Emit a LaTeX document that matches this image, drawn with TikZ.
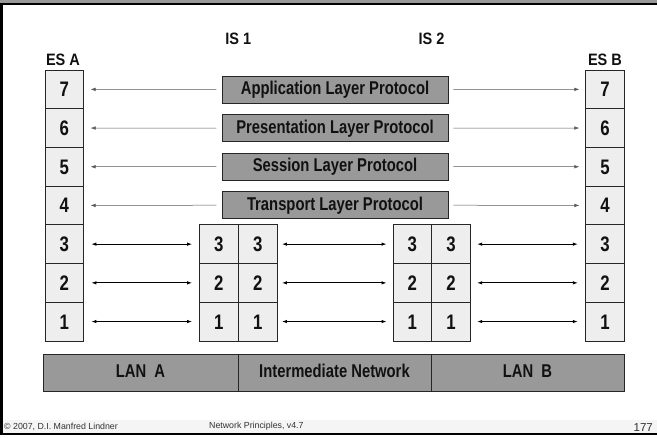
\documentclass[tikz,border=0pt]{standalone}
\usepackage{fontspec}
\setmainfont{Liberation Sans}
\newfontfamily\narrowfont[FakeStretch=0.80]{Liberation Sans}
\newfontfamily\headfont[FakeStretch=0.88]{Liberation Sans}
\usetikzlibrary{arrows.meta}
\definecolor{cellgray}{HTML}{EEEEEE}
\definecolor{boxgray}{HTML}{999999}
\definecolor{txtdark}{HTML}{111111}
\tikzset{
  cell/.style={draw=black!85, line width=0.7pt, fill=cellgray, minimum width=38.6pt, minimum height=38.7pt, inner sep=0pt, text height=15pt, text depth=0pt, font=\narrowfont\bfseries\fontsize{21}{21}\selectfont, text=txtdark},
  proto/.style={draw=black!85, line width=0.7pt, fill=boxgray, minimum width=226pt, minimum height=27pt, inner sep=0pt, text height=13.5pt, text depth=3.5pt, font=\narrowfont\bfseries\fontsize{18.5}{18.5}\selectfont, text=txtdark},
  netbox/.style={draw=black!85, line width=0.7pt, fill=boxgray, minimum height=37pt, inner sep=0pt, text height=13.5pt, text depth=3.5pt, font=\narrowfont\bfseries\fontsize{18.5}{18.5}\selectfont, text=txtdark},
  lbl/.style={inner sep=0pt, text height=12pt, text depth=0pt, font=\headfont\bfseries\fontsize{16.5}{16.5}\selectfont, text=txtdark},
  thinarrow/.style={draw=black!65, line width=0.5pt, -{Latex[length=5pt,width=3.5pt]}},
  dblarrow/.style={draw=black, line width=0.9pt, {Latex[length=5pt,width=3.5pt]}-{Latex[length=5pt,width=3.5pt]}},
  foot/.style={inner sep=0pt, font=\fontsize{8.8}{9}\selectfont, text=black!80}
}
\begin{document}
\begin{tikzpicture}[x=1pt,y=-1pt]
\useasboundingbox (0,0) rectangle (657,438);
% frame
\fill[black!40] (0,0) rectangle (657,3);
\draw[black, line width=1.8pt] (0,4.2) -- (657,4.2);
\fill[black!4] (3,420) rectangle (657,433.2);
\draw[black, line width=2.6pt] (1.3,3.5) -- (1.3,435.5);
\draw[black, line width=1.8pt] (0,434.2) -- (657,434.2);
% titles
\node[lbl] (tA) at (63,60) {ES A};
\node[lbl] (tB) at (605,60) {ES B};
\node[lbl] (t1) at (238.3,39) {IS 1};
\node[lbl] (t2) at (431.5,39) {IS 2};
% end systems
\foreach \n/\y in {7/89.35,6/128.05,5/166.75,4/205.45,3/244.15,2/282.85,1/321.55}{
  \node[cell] (a\n) at (64.2,\y) {\n};
  \node[cell] (b\n) at (605,\y) {\n};
}
% intermediate systems
\foreach \n/\y in {3/244.15,2/282.85,1/321.55}{
  \node[cell] (i\n) at (218.8,\y) {\n};
  \node[cell] (j\n) at (257.8,\y) {\n};
  \node[cell] (k\n) at (412.2,\y) {\n};
  \node[cell] (l\n) at (451,\y) {\n};
}
% protocol boxes
\node[proto] (p7) at (335,89.5) {Application Layer Protocol};
\node[proto] (p6) at (335,128.1) {Presentation Layer Protocol};
\node[proto] (p5) at (335,166.7) {Session Layer Protocol};
\node[proto] (p4) at (335,205.2) {Transport Layer Protocol};
\foreach \n in {7,6,5,4}{
  \draw[thinarrow, shorten <=5.3pt, shorten >=6.7pt] (p\n.west) -- (a\n.east);
  \draw[thinarrow, shorten <=5pt, shorten >=6pt] (p\n.east) -- (b\n.west);
}
\foreach \n in {3,2,1}{
  \draw[dblarrow, shorten <=7.5pt, shorten >=7pt] (a\n.east) -- (i\n.west);
  \draw[dblarrow, shorten <=4.5pt, shorten >=6pt] (j\n.east) -- (k\n.west);
  \draw[dblarrow, shorten <=6.5pt, shorten >=7.5pt] (l\n.east) -- (b\n.west);
}
% networks
\node[netbox, minimum width=195pt] (lanA) at (140.5,372.5) {LAN\ \ A};
\node[netbox, minimum width=193pt] (mid) at (334.5,372.5) {Intermediate Network};
\node[netbox, minimum width=193pt] (lanB) at (527.5,372.5) {LAN\ \ B};
% footer
\node[foot, anchor=west] (f1) at (4,426.5) {© 2007, D.I. Manfred Lindner};
\node[foot, anchor=west] (f2) at (209,426.5) {Network Principles, v4.7};
\node[foot, anchor=east, font=\fontsize{11.5}{11.5}\selectfont] (f3) at (653,428) {177};
\end{tikzpicture}
\end{document}
